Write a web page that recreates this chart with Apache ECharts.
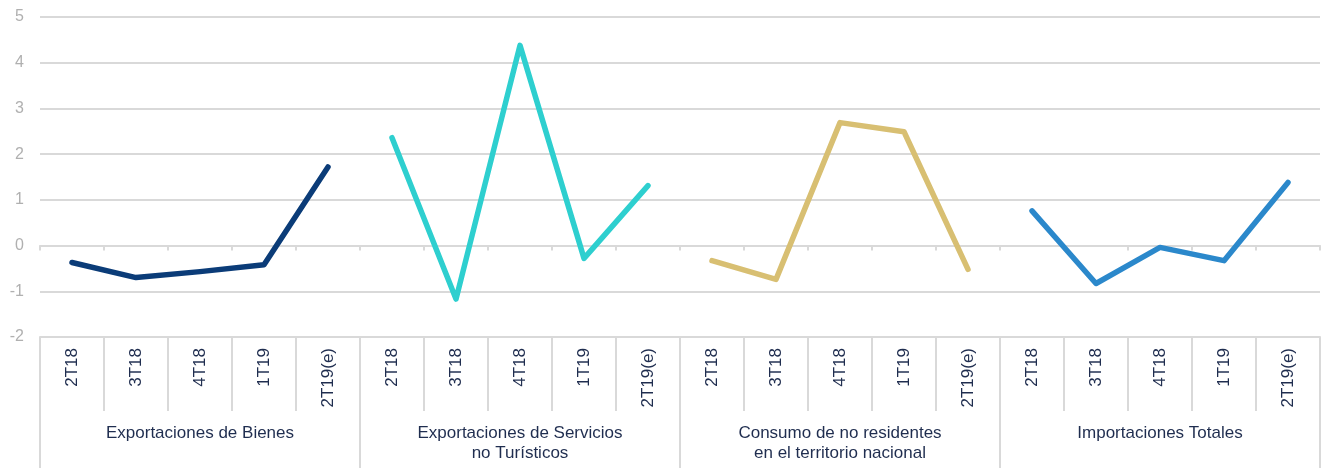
<!DOCTYPE html>
<html>
<head>
<meta charset="utf-8">
<script src="https://cdn.jsdelivr.net/npm/echarts@6/dist/echarts.min.js"></script>
<style>
html, body { margin: 0; padding: 0; background: #fff; }
#chart { width: 1322px; height: 468px; }
</style>
</head>
<body>
<div id="chart"></div>
<script>
// periodos dentro de cada grupo
var periodos = ['2T18', '3T18', '4T18', '1T19', '2T19(e)'];
var grupos = ['Exportaciones de Bienes', 'Exportaciones de Servicios\nno Turísticos', 'Consumo de no residentes\nen el territorio nacional', 'Importaciones Totales'];
var yTicks = [-2, -1, 0, 1, 2, 3, 4, 5];

var bienes = [-0.37, -0.70, -0.57, -0.42, 1.72];
var servicios = [2.36, -1.17, 4.38, -0.28, 1.31];
var consumo = [-0.33, -0.74, 2.69, 2.49, -0.52];
var importaciones = [0.76, -0.83, -0.04, -0.33, 1.38];

var colores = ['#0b3c78', '#2ecfcf', '#d8bf72', '#2b88cb'];

// categorias del eje: 20 posiciones
var categorias = [];
grupos.forEach(function (g) {
    periodos.forEach(function (p) { categorias.push(p); });
});

function tramo(valores, idx) {
    var out = [];
    for (var i = 0; i < categorias.length; i++) {
        var k = i - idx * periodos.length;
        out.push(k >= 0 && k < periodos.length ? valores[k] : null);
    }
    return out;
}

var lineas = [bienes, servicios, consumo, importaciones];

var myChart = echarts.init(document.getElementById('chart'));
var option = {
    animation: false,
    grid: { left: 40, right: 2, top: 17, bottom: 131 },
    xAxis: [
        {
            type: 'category',
            data: categorias,
            axisLine: { onZero: true, lineStyle: { color: '#d9d9d9', width: 2 } },
            axisTick: { show: true, length: 5, lineStyle: { color: '#d9d9d9', width: 2 } },
            axisLabel: { show: false }
        },
        {
            type: 'category',
            data: categorias,
            position: 'bottom',
            axisLine: { onZero: false, lineStyle: { color: '#d9d9d9', width: 2 } },
            axisTick: { show: true, interval: 0, length: 74, lineStyle: { color: '#d9d9d9', width: 2 } },
            axisLabel: {
                interval: 0, rotate: 90, margin: 11,
                fontFamily: 'Liberation Sans', fontSize: 17, color: '#1f2d4f'
            }
        },
        {
            type: 'category',
            data: grupos,
            position: 'bottom',
            axisLine: { show: false, onZero: false },
            axisTick: { show: true, interval: 0, length: 131, lineStyle: { color: '#d9d9d9', width: 2 } },
            axisLabel: {
                interval: 0, margin: 86, lineHeight: 20,
                fontFamily: 'Liberation Sans', fontSize: 17, color: '#1f2d4f'
            }
        }
    ],
    yAxis: {
        type: 'value',
        min: yTicks[0],
        max: yTicks[yTicks.length - 1],
        interval: 1,
        axisLine: { show: false },
        axisTick: { show: false },
        axisLabel: { margin: 16, fontFamily: 'Liberation Sans', fontSize: 16, color: '#b0b0b0' },
        splitLine: { lineStyle: { color: '#d9d9d9', width: 2 } }
    },
    series: lineas.map(function (v, i) {
        return {
            type: 'line',
            data: tramo(v, i),
            showSymbol: false,
            symbol: 'none',
            connectNulls: false,
            lineStyle: { color: colores[i], width: 5.5, cap: 'round', join: 'round' },
            z: 5
        };
    })
};
myChart.setOption(option, true);
</script>
</body>
</html>
